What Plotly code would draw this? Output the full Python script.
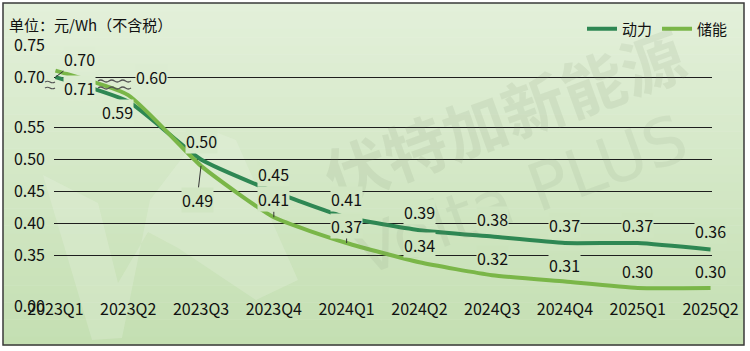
import plotly.graph_objects as go

# ---------------- data ----------------
quarters = ["2023Q1", "2023Q2", "2023Q3", "2023Q4", "2024Q1",
            "2024Q2", "2024Q3", "2024Q4", "2025Q1", "2025Q2"]
power = [0.70, 0.59, 0.50, 0.45, 0.41, 0.39, 0.38, 0.37, 0.37, 0.36]     # 动力
storage = [0.71, 0.60, 0.49, 0.41, 0.37, 0.34, 0.32, 0.31, 0.30, 0.30]   # 储能
y_tick_values = [0.00, 0.35, 0.40, 0.45, 0.50, 0.55, 0.70, 0.75]

# ---------------- broken-axis scale ----------------
def brk(v):
    """Piecewise-linear broken axis: compresses 0.60-0.70 and 0-0.30."""
    if v >= 0.70:
        return 0.628 + (v - 0.70)
    if v >= 0.60:
        return 0.60 + (v - 0.60) * 0.28
    if v >= 0.30:
        return v
    return 0.272 + v * (0.028 / 0.30)

# ---------------- geometry / style ----------------
W, H = 750, 351
ML, MR, MT, MB = 54, 38, 44, 44
PW, PH = W - ML - MR, H - MT - MB
YR = [0.2705, 0.6795]
XR = [-0.02, 9.02]

def px2x(px):
    return (px - ML) / PW

def py2y(py):
    return (H - MB - py) / PH

def val2py(u):
    return MT + (YR[1] - u) / (YR[1] - YR[0]) * PH

TOP_C = (227, 240, 218)
BOT_C = (196, 223, 178)

def grad(py):
    t = min(max((py - 3) / (345 - 3), 0), 1)
    c = [round(a + (b - a) * t) for a, b in zip(TOP_C, BOT_C)]
    return "rgb(%d,%d,%d)" % tuple(c)

C_POWER = "#2E8753"
C_STORE = "#7AB648"
FONT = "Noto Sans CJK SC"

fig = go.Figure()
fig.add_trace(go.Scatter(x=quarters, y=[brk(v) for v in power], name="动力",
                         mode="lines", line=dict(color=C_POWER, width=4, shape="spline", smoothing=0.5)))
fig.add_trace(go.Scatter(x=quarters, y=[brk(v) for v in storage], name="储能",
                         mode="lines", line=dict(color=C_STORE, width=4, shape="spline", smoothing=0.5)))

# label offsets (dx, dy in px, dy positive = down) and leader flags
power_off = [(24, -18, True), (-11, 10, False)] + [(0, -18, False)] * 8
store_off = [(24, 17, False), (23, -18, False), (-4, 34, True), (0, -18, True),
             (0, -17, True)] + [(0, -17, False)] * 5

annotations = []
# watermark (drawn first, faint)
annotations.append(dict(x=px2x(503), y=py2y(113), xref="paper", yref="paper",
                        xanchor="center", yanchor="middle",
                        showarrow=False, text="<b>伏特加新能源</b>", textangle=-20,
                        font=dict(size=63, color="rgba(120,140,110,0.12)", family=FONT)))
annotations.append(dict(x=px2x(520), y=py2y(195), xref="paper", yref="paper",
                        xanchor="center", yanchor="middle",
                        showarrow=False, text="Volta PLUS", textangle=-20,
                        font=dict(size=66, color="rgba(120,140,110,0.10)", family="DejaVu Sans")))

for vals, offs in ((power, power_off), (storage, store_off)):
    for i, (v, (dx, dy, lead)) in enumerate(zip(vals, offs)):
        u = brk(v)
        py = val2py(u) + dy
        a = dict(x=quarters[i], y=u, xref="x", yref="y", text="%.2f" % v,
                 font=dict(size=16, color="#111", family=FONT),
                 bgcolor=grad(py), borderpad=0)
        if lead:
            a.update(showarrow=True, ax=dx, ay=dy, arrowhead=0, arrowwidth=1,
                     arrowcolor="#333")
        else:
            a.update(showarrow=False, xshift=dx, yshift=-dy)
        annotations.append(a)

# unit title
annotations.append(dict(x=px2x(7), y=py2y(25), xref="paper", yref="paper",
                        xanchor="left", yanchor="middle", showarrow=False,
                        text="单位：元/Wh（不含税）",
                        font=dict(size=15, color="#111", family=FONT)))

shapes = []
# background gradient bands inside frame
N = 40
for k in range(N):
    y0 = 3 + (345 - 3) * k / N
    y1 = 3 + (345 - 3) * (k + 1) / N
    shapes.append(dict(type="rect", xref="paper", yref="paper", layer="below",
                       x0=px2x(3), x1=px2x(744), y0=py2y(y1 + 0.5), y1=py2y(y0),
                       fillcolor=grad((y0 + y1) / 2), line=dict(width=0)))

# faint logo mark in the background
logo_pts = [(43, 175), (98, 203), (118, 283), (148, 232), (178, 248), (256, 300),
            (298, 280), (236, 140), (205, 128), (150, 200), (122, 338), (92, 340)]
logo_path = "M " + " L ".join("%.4f,%.4f" % (px2x(a), py2y(b)) for a, b in logo_pts) + " Z"
shapes.append(dict(type="path", xref="paper", yref="paper", layer="below", path=logo_path,
                   fillcolor="rgba(240,244,236,0.22)", line=dict(width=0)))

# frame
shapes.append(dict(type="rect", xref="paper", yref="paper", layer="above",
                   x0=px2x(3), x1=px2x(744), y0=py2y(345), y1=py2y(3),
                   line=dict(color="#3a3a3a", width=1.5)))

# break marks (wavy lines)
def wave(x0, x1, yc, amp=2.0, n=3):
    step = (x1 - x0) / (2 * n)
    p = "M %.4f,%.4f" % (px2x(x0), py2y(yc))
    for j in range(2 * n):
        xa = x0 + step * (j + 0.5)
        xb = x0 + step * (j + 1)
        ya = yc - amp if j % 2 == 0 else yc + amp
        p += " Q %.4f,%.4f %.4f,%.4f" % (px2x(xa), py2y(ya), px2x(xb), py2y(yc))
    return p

for yc in (81, 88):
    shapes.append(dict(type="path", xref="paper", yref="paper", path=wave(98, 131, yc),
                       line=dict(color="#555", width=1.3)))
shapes.append(dict(type="path", xref="paper", yref="paper", path=wave(45, 55, 82, 1.5, 1),
                   line=dict(color="#555", width=1.2)))
shapes.append(dict(type="path", xref="paper", yref="paper", path=wave(45, 55, 88, 1.5, 1),
                   line=dict(color="#555", width=1.2)))

fig.update_layout(
    width=W, height=H,
    margin=dict(l=ML, r=MR, t=MT, b=MB),
    paper_bgcolor="white", plot_bgcolor="rgba(0,0,0,0)",
    font=dict(family=FONT, color="#111"),
    showlegend=True,
    legend=dict(orientation="h", x=px2x(582), xanchor="left", y=py2y(29), yanchor="middle",
                bgcolor="rgba(0,0,0,0)", font=dict(size=15, family=FONT)),
    annotations=annotations,
    shapes=shapes,
)
fig.update_xaxes(type="category", range=XR, showgrid=False, showline=False, zeroline=False,
                 ticks="", tickfont=dict(size=16, family=FONT, color="#111"),
                 ticklabelstandoff=-9)
fig.update_yaxes(range=YR, tickvals=[brk(v) for v in y_tick_values],
                 ticktext=["%.2f" % v for v in y_tick_values],
                 showgrid=True, gridcolor="#1e1e1e", gridwidth=1, zeroline=False,
                 showline=False, ticks="", tickfont=dict(size=16, family=FONT, color="#111"),
                 ticklabelstandoff=8)

fig.write_html("out.html")
